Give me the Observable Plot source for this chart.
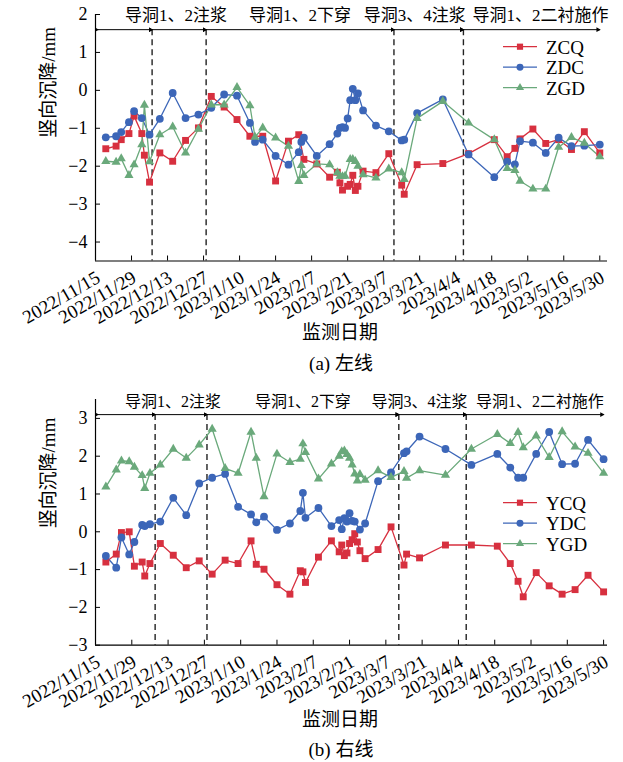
<!DOCTYPE html>
<html>
<head>
<meta charset="utf-8">
<script src="https://cdn.jsdelivr.net/npm/d3@7"></script>
<script src="https://cdn.jsdelivr.net/npm/@observablehq/plot@0.6"></script>
<style>
  body { margin: 0; background: #fff; }
  #page { position: relative; width: 623px; height: 762px; overflow: hidden;
          font-family: "Liberation Serif", "Times New Roman", Tinos, "DejaVu Serif", "Noto Sans CJK SC", serif; color: #000; }
  .panel { position: absolute; left: 0; }
  .cap { position: absolute; left: 0; width: 680px; text-align: center; font-size: 19px; line-height: 1; white-space: nowrap; }
</style>
</head>
<body>
<div id="page"></div>
<script>
// Date axis tick labels (every 14 days)
const xTickLabels = ["2022/11/15","2022/11/29","2022/12/13","2022/12/27","2023/1/10","2023/1/24","2023/2/7",
  "2023/2/21","2023/3/7","2023/3/21","2023/4/4","2023/4/18","2023/5/2","2023/5/16","2023/5/30"];

// Construction phases and their boundaries
const phaseNames = ["", "导洞1、2注浆", "导洞1、2下穿", "导洞3、4注浆", "导洞1、2二衬施作"];
const phaseSpan = ["2022-11-16", "2023-05-30"];
const leftBoundaries = ["2022-12-07", "2022-12-28", "2023-03-11", "2023-04-07"];
const rightBoundaries = ["2022-12-08", "2022-12-28", "2023-03-12", "2023-04-07"];

// (a) left line — vertical settlement, mm
const zcq = [
["2022-11-19",-1.54],["2022-11-23",-1.47],["2022-11-25",-1.30],["2022-11-28",-1.14],["2022-11-30",-0.68],
["2022-12-03",-1.14],["2022-12-04",-1.71],["2022-12-06",-2.42],["2022-12-10",-1.65],["2022-12-15",-1.87],
["2022-12-20",-1.32],["2022-12-25",-0.99],["2022-12-30",-0.16],["2023-01-04",-0.44],["2023-01-09",-0.77],
["2023-01-14",-1.21],["2023-01-19",-1.21],["2023-01-24",-2.39],["2023-01-29",-1.34],["2023-02-02",-1.17],
["2023-02-04",-1.82],["2023-02-09",-1.94],["2023-02-14",-2.29],["2023-02-17",-2.16],["2023-02-18",-2.44],
["2023-02-19",-2.63],["2023-02-21",-2.53],["2023-02-22",-2.48],["2023-02-23",-2.24],["2023-02-24",-2.64],
["2023-02-25",-2.53],["2023-02-27",-2.13],["2023-03-04",-2.17],["2023-03-09",-1.67],["2023-03-14",-2.50],
["2023-03-15",-2.74],["2023-03-20",-1.96],["2023-03-30",-1.93],["2023-04-09",-1.67],["2023-04-19",-1.30],
["2023-04-24",-1.75],["2023-04-27",-1.53],["2023-04-29",-1.28],["2023-05-04",-1.02],["2023-05-09",-1.40],
["2023-05-14",-1.30],["2023-05-19",-1.56],["2023-05-24",-1.09],["2023-05-30",-1.65]
];
const zdc = [
["2022-11-19",-1.24],["2022-11-23",-1.21],["2022-11-25",-1.10],["2022-11-28",-0.84],["2022-11-30",-0.55],
["2022-12-03",-0.73],["2022-12-06",-1.17],["2022-12-10",-0.75],["2022-12-15",-0.07],["2022-12-20",-0.73],
["2022-12-25",-0.64],["2022-12-30",-0.46],["2023-01-04",-0.11],["2023-01-09",-0.14],["2023-01-14",-0.86],
["2023-01-16",-1.36],["2023-01-19",-1.30],["2023-01-24",-1.73],["2023-01-29",-1.96],["2023-02-02",-1.63],
["2023-02-03",-1.36],["2023-02-04",-1.25],["2023-02-09",-1.73],["2023-02-14",-1.42],["2023-02-17",-1.14],
["2023-02-18",-0.99],["2023-02-19",-0.97],["2023-02-20",-0.99],["2023-02-21",-0.74],["2023-02-22",-0.26],
["2023-02-23",0.04],["2023-02-24",-0.26],["2023-02-25",-0.08],["2023-02-27",-0.53],["2023-03-04",-0.93],
["2023-03-09",-1.08],["2023-03-14",-1.32],["2023-03-15",-1.30],["2023-03-20",-0.60],["2023-03-30",-0.24],
["2023-04-09",-1.69],["2023-04-19",-2.29],["2023-04-24",-1.88],["2023-04-27",-1.95],["2023-04-29",-1.34],
["2023-05-04",-1.38],["2023-05-09",-1.65],["2023-05-14",-1.25],["2023-05-19",-1.47],["2023-05-24",-1.46],
["2023-05-30",-1.43]
];
const zgd = [
["2022-11-19",-1.87],["2022-11-23",-1.89],["2022-11-25",-1.80],["2022-11-28",-2.24],["2022-11-30",-1.96],
["2022-12-03",-1.43],["2022-12-04",-0.39],["2022-12-06",-1.88],["2022-12-10",-1.17],["2022-12-15",-0.96],
["2022-12-20",-1.65],["2022-12-25",-1.02],["2022-12-30",-0.38],["2023-01-04",-0.38],["2023-01-09",0.08],
["2023-01-14",-0.40],["2023-01-16",-1.23],["2023-01-19",-0.99],["2023-01-24",-1.25],["2023-01-29",-1.47],
["2023-02-02",-2.40],["2023-02-03",-1.98],["2023-02-04",-2.24],["2023-02-09",-1.94],["2023-02-14",-1.96],
["2023-02-17",-2.17],["2023-02-18",-2.26],["2023-02-19",-2.27],["2023-02-20",-2.26],["2023-02-22",-1.82],
["2023-02-23",-1.82],["2023-02-24",-1.87],["2023-02-25",-2.00],["2023-02-27",-2.22],["2023-03-04",-2.31],
["2023-03-09",-2.07],["2023-03-14",-2.17],["2023-03-15",-2.35],["2023-03-20",-0.74],["2023-03-30",-0.29],
["2023-04-09",-0.86],["2023-04-19",-1.30],["2023-04-24",-2.06],["2023-04-27",-2.11],["2023-04-29",-2.39],
["2023-05-04",-2.60],["2023-05-09",-2.60],["2023-05-14",-1.50],["2023-05-19",-1.24],["2023-05-24",-1.39],
["2023-05-30",-1.75]
];

// (b) right line — vertical settlement, mm
const ycq = [
["2022-11-19",-0.80],["2022-11-23",-0.59],["2022-11-25",-0.02],["2022-11-28",0.00],["2022-11-30",-0.91],
["2022-12-03",-0.80],["2022-12-04",-1.17],["2022-12-06",-0.84],["2022-12-10",-0.31],["2022-12-15",-0.62],
["2022-12-20",-0.95],["2022-12-25",-0.77],["2022-12-30",-1.12],["2023-01-04",-0.75],["2023-01-09",-0.84],
["2023-01-14",-0.24],["2023-01-16",-0.86],["2023-01-19",-0.99],["2023-01-24",-1.40],["2023-01-29",-1.65],
["2023-02-02",-1.03],["2023-02-03",-1.06],["2023-02-04",-1.34],["2023-02-09",-0.67],["2023-02-14",-0.24],
["2023-02-17",-0.53],["2023-02-18",-0.35],["2023-02-19",-0.63],["2023-02-20",-0.56],["2023-02-21",-0.31],
["2023-02-22",-0.21],["2023-02-23",-0.05],["2023-02-24",-0.27],["2023-02-25",-0.50],["2023-02-27",-0.71],
["2023-03-04",-0.47],["2023-03-09",0.13],["2023-03-14",-0.88],["2023-03-15",-0.59],["2023-03-20",-0.69],
["2023-03-30",-0.35],["2023-04-09",-0.35],["2023-04-19",-0.38],["2023-04-24",-0.84],["2023-04-27",-1.31],
["2023-04-29",-1.72],["2023-05-04",-1.08],["2023-05-09",-1.43],["2023-05-14",-1.65],["2023-05-19",-1.53],
["2023-05-24",-1.15],["2023-05-30",-1.59]
];
const ydc = [
["2022-11-19",-0.64],["2022-11-23",-0.95],["2022-11-25",-0.15],["2022-11-28",-0.60],["2022-11-30",-0.27],
["2022-12-03",0.18],["2022-12-04",0.15],["2022-12-06",0.20],["2022-12-10",0.27],["2022-12-15",0.90],
["2022-12-20",0.44],["2022-12-25",1.28],["2022-12-30",1.43],["2023-01-04",1.53],["2023-01-09",0.66],
["2023-01-14",0.46],["2023-01-16",0.25],["2023-01-19",0.40],["2023-01-24",0.05],["2023-01-29",0.22],
["2023-02-02",0.55],["2023-02-03",1.03],["2023-02-04",0.37],["2023-02-09",0.63],["2023-02-14",0.15],
["2023-02-17",0.31],["2023-02-18",0.07],["2023-02-19",0.36],["2023-02-20",0.27],["2023-02-21",0.49],
["2023-02-22",0.29],["2023-02-23",0.27],["2023-02-25",0.06],["2023-02-27",0.22],["2023-03-04",1.34],
["2023-03-09",1.57],["2023-03-14",2.08],["2023-03-15",2.13],["2023-03-20",2.52],["2023-03-30",2.19],
["2023-04-09",1.77],["2023-04-19",2.06],["2023-04-24",1.70],["2023-04-27",1.43],["2023-04-29",1.43],
["2023-05-04",2.06],["2023-05-09",2.64],["2023-05-14",1.79],["2023-05-19",1.80],["2023-05-24",2.43],
["2023-05-30",1.92]
];
const ygd = [
["2022-11-19",1.19],["2022-11-23",1.64],["2022-11-25",1.88],["2022-11-28",1.86],["2022-11-30",1.71],
["2022-12-03",1.49],["2022-12-04",1.15],["2022-12-06",1.55],["2022-12-10",1.77],["2022-12-15",2.19],
["2022-12-20",1.95],["2022-12-25",2.30],["2022-12-30",2.72],["2023-01-04",1.68],["2023-01-09",1.55],
["2023-01-14",2.64],["2023-01-16",1.95],["2023-01-19",0.93],["2023-01-24",2.06],["2023-01-29",1.84],
["2023-02-02",1.92],["2023-02-03",2.33],["2023-02-04",2.10],["2023-02-09",1.40],["2023-02-14",1.80],
["2023-02-17",2.00],["2023-02-18",2.12],["2023-02-19",2.14],["2023-02-20",2.05],["2023-02-21",1.95],
["2023-02-22",1.77],["2023-02-23",1.53],["2023-02-24",1.35],["2023-02-25",1.52],["2023-02-27",1.37],
["2023-03-04",1.62],["2023-03-09",1.44],["2023-03-14",1.60],["2023-03-15",1.42],["2023-03-20",1.62],
["2023-03-30",1.50],["2023-04-09",2.19],["2023-04-19",2.58],["2023-04-24",2.34],["2023-04-27",2.63],
["2023-04-29",2.23],["2023-05-04",2.54],["2023-05-09",1.97],["2023-05-14",2.65],["2023-05-19",2.25],
["2023-05-24",2.08],["2023-05-30",1.55]
];

const yTicksLeft = [-4, -3, -2, -1, 0, 1, 2];
const yTicksRight = [-3, -2, -1, 0, 1, 2, 3];

const RED = "#d7303f", BLUE = "#3c66b8", GREEN = "#6aa97b";
const FONT = '"Liberation Serif", "Times New Roman", Tinos, "DejaVu Serif", "Noto Sans CJK SC", serif';

const parseDay = d3.utcParse("%Y-%m-%d");
const tickDate = s => { const [y, m, d] = s.split("/").map(Number); return new Date(Date.UTC(y, m - 1, d)); };
const fmtY = d3.format("d");

function drawPanel(o) {
  const width = 623, mL = 95, mR = 16;
  const plotW = width - mL - mR;
  const height = o.marginTop + o.plotH + o.marginBottom;
  const rows = o.series.map(s => ({...s, points: s.data.map(([d, v]) => ({date: parseDay(d), value: v}))}));

  // phase segments between boundaries
  const edges = [phaseSpan[0], ...o.bounds, phaseSpan[1]].map(parseDay);
  const segs = phaseNames.map((name, i) => ({
    name, a: edges[i], b: edges[i + 1],
    mid: new Date((+edges[i] + +edges[i + 1]) / 2)
  }));

  const marks = [
    // axis lines
    Plot.ruleX([tickDate(xTickLabels[0])], {stroke: "#000", strokeWidth: 1.2}),
    Plot.ruleY([o.yDomain[0]], {stroke: "#000", strokeWidth: 1.2}),
    // inward ticks
    Plot.tickX(xTickLabels, {x: tickDate, insetTop: o.plotH - 5, stroke: "#000", strokeWidth: 1}),
    Plot.tickY(o.yTicks, {y: d => d, insetRight: plotW - 5, stroke: "#000", strokeWidth: 1}),
    // tick labels
    Plot.text(o.yTicks, {y: d => d, frameAnchor: "left", dx: -8, textAnchor: "end", text: d => fmtY(d),
      fontSize: o.yFont}),
    Plot.text(xTickLabels, {x: tickDate, frameAnchor: "bottom", text: d => d, rotate: -30, textAnchor: "end",
      lineAnchor: "middle", dy: 15, dx: 3, fontSize: 19}),
    // y axis title
    Plot.text(["竖向沉降/mm"], {frameAnchor: "left", rotate: -90, dx: -47, dy: o.titleDy, fontSize: 19}),
    // phase boundaries
    Plot.ruleX(o.bounds.map(parseDay), {x: d => d, y1: o.arrowY, y2: o.yDomain[0], stroke: "#222",
      strokeWidth: 1.4, strokeDasharray: "6,4"}),
    // phase arrows
    Plot.link(segs, {x1: "a", x2: "b", y1: () => o.arrowY, y2: () => o.arrowY, stroke: "#000", strokeWidth: 1,
      markerStart: "arrow", markerEnd: "arrow"}),
    ...segs.map((s, i) => Plot.text([s].filter(s => s.name), {x: "mid", y: () => o.labelY, text: "name",
      dx: o.labelShift[i], fontSize: o.labelFont})),
    // series
    ...rows.map(s => Plot.line(s.points, {x: "date", y: "value", stroke: s.color, strokeWidth: 1.3})),
    ...rows.map(s => Plot.dot(s.points, {x: "date", y: "value", symbol: s.symbol, r: s.r, fill: s.color,
      stroke: "none"}))
  ];

  const svg = Plot.plot({
    width, height,
    marginLeft: mL, marginRight: mR, marginTop: o.marginTop, marginBottom: o.marginBottom,
    x: {type: "utc", domain: [tickDate(xTickLabels[0]), o.xEnd], axis: null},
    y: {domain: o.yDomain, axis: null},
    style: {fontFamily: FONT, fontSize: "17px", color: "#000", background: "transparent", overflow: "visible"},
    marks
  });
  svg.setAttribute("font-family", FONT);

  // solid arrowheads on the phase arrows
  d3.select(svg).selectAll("marker path")
    .attr("d", "M-5,-3.5L1.5,0L-5,3.5Z").attr("fill", "#000").attr("stroke", "none");

  // legend
  const g = d3.select(svg).append("g").attr("font-family", FONT).attr("font-size", 19)
    .attr("text-anchor", "start");
  const symbols = {square: d3.symbolSquare, circle: d3.symbolCircle, triangle: d3.symbolTriangle};
  rows.forEach((s, i) => {
    const y = o.legendTop + i * 20.5;
    g.append("line").attr("x1", 503).attr("x2", 537).attr("y1", y).attr("y2", y)
      .attr("stroke", s.color).attr("stroke-width", 1.3);
    g.append("path").attr("d", d3.symbol(symbols[s.symbol], Math.PI * s.r * s.r * 0.8)())
      .attr("transform", `translate(520,${y})`).attr("fill", s.color);
    g.append("text").attr("x", 546).attr("y", y).attr("dy", "0.36em").text(s.key);
  });
  return svg;
}

const page = document.getElementById("page");

function place(node, top) {
  const div = document.createElement("div");
  div.className = "panel";
  div.style.top = top + "px";
  div.appendChild(node);
  page.appendChild(div);
}
function caption(text, top, center) {
  const div = document.createElement("div");
  div.className = "cap";
  div.style.top = top + "px";
  div.style.left = (center - 340) + "px";
  div.textContent = text;
  page.appendChild(div);
}

place(drawPanel({
  series: [
    {key: "ZCQ", data: zcq, color: RED, symbol: "square", r: 3.9},
    {key: "ZDC", data: zdc, color: BLUE, symbol: "circle", r: 3.9},
    {key: "ZGD", data: zgd, color: GREEN, symbol: "triangle", r: 3.4}
  ],
  bounds: leftBoundaries,
  xEnd: new Date(Date.UTC(2023, 5, 2)),
  yDomain: [-4.5, 2], yTicks: yTicksLeft,
  marginTop: 14, plotH: 246.5, marginBottom: 80,
  arrowY: 1.6, labelY: 1.98, labelShift: [0, -3, 0, -14, 9], labelFont: 17,
  yFont: 18, titleDy: 0, legendTop: 46.7
}), 0);
caption("监测日期", 323, 340);
caption("(a) 左线", 354, 341);

place(drawPanel({
  series: [
    {key: "YCQ", data: ycq, color: RED, symbol: "square", r: 3.9},
    {key: "YDC", data: ydc, color: BLUE, symbol: "circle", r: 3.9},
    {key: "YGD", data: ygd, color: GREEN, symbol: "triangle", r: 3.4}
  ],
  bounds: rightBoundaries,
  xEnd: new Date(Date.UTC(2023, 4, 31, 12)),
  yDomain: [-3, 3.5], yTicks: yTicksRight,
  marginTop: 19, plotH: 245.7, marginBottom: 80,
  arrowY: 3.1, labelY: 3.45, labelShift: [0, -8, 0, -13, 5], labelFont: 16,
  yFont: 18, titleDy: 6, legendTop: 122.7
}), 380);
caption("监测日期", 710, 340);
caption("(b) 右线", 740, 341);
</script>
</body>
</html>
